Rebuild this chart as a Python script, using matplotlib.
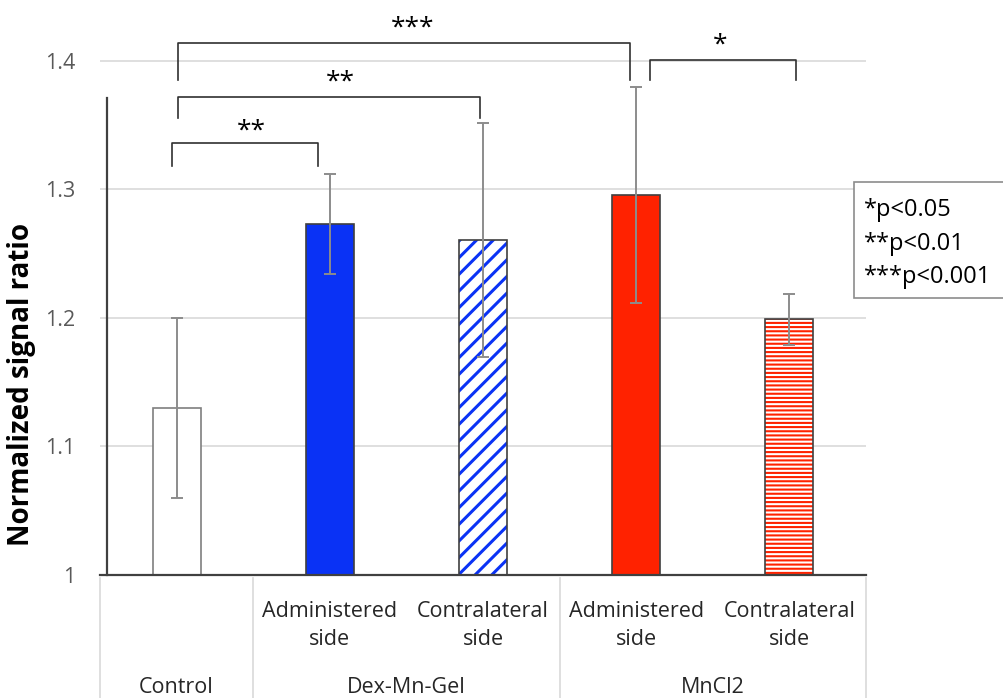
import matplotlib
matplotlib.use("Agg")
import matplotlib.pyplot as plt
from matplotlib.patches import Rectangle
import matplotlib.transforms as mtransforms

plt.rcParams['font.family'] = ['Open Sans', 'DejaVu Sans']
plt.rcParams['hatch.linewidth'] = 1.5

# ---- data ----
sub_labels = ['', 'Administered\nside', 'Contralateral\nside', 'Administered\nside', 'Contralateral\nside']
groups = ['Control', 'Dex-Mn-Gel', 'MnCl2']
group_spans = [(-0.5, 0.5), (0.5, 2.5), (2.5, 4.5)]
values = [1.13, 1.273, 1.261, 1.296, 1.199]
errors = [0.07, 0.039, 0.091, 0.084, 0.02]
face_colors = ['white', '#0A32F5', 'white', '#FF2200', 'white']
hatch_colors = [None, None, '#0A32F5', None, '#FF2200']
hatches = [None, None, '//', None, '----']
hatch_lw = [None, None, 2.2, None, 1.5]
yticks = [1.0, 1.1, 1.2, 1.3, 1.4]
ytick_labels = ['1', '1.1', '1.2', '1.3', '1.4']
# significance brackets: (x_left, x_right, y_top, y_leg_end, text, text_x, text_y)
brackets = [
    (0.01, 2.96, 1.414, 1.385, '***', 1.54, 1.416),
    (3.09, 4.04, 1.401, 1.385, '*', 3.55, 1.403),
    (0.01, 1.98, 1.372, 1.356, '**', 1.07, 1.374),
    (-0.03, 0.92, 1.336, 1.318, '**', 0.49, 1.336),
]
legend_lines = ['*p<0.05', '**p<0.01', '***p<0.001']

W, H = 1004, 698
fig = plt.figure(figsize=(W / 100, H / 100), dpi=100)
ax = fig.add_axes([100 / W, (H - 575) / H, 766 / W, 565 / H])
ax.set_xlim(-0.5, 4.5)
ax.set_ylim(1.0, 1.0 + 565 / 1285)

x = list(range(len(values)))
width = 48 / 153
heights = [v - 1.0 for v in values]

for i in x:
    if hatches[i]:
        with plt.rc_context({'hatch.linewidth': hatch_lw[i]}):
            b = ax.bar(i, heights[i], width, bottom=1.0, color='white',
                       edgecolor=hatch_colors[i], hatch=hatches[i], linewidth=0, zorder=2)
        for p in b.patches:
            if hasattr(p, 'set_hatch_linewidth'):
                p.set_hatch_linewidth(hatch_lw[i])
        ax.bar(i, heights[i], width, bottom=1.0, color='none', edgecolor='#404040',
               linewidth=1.2, zorder=3)
    else:
        ec = '#7f7f7f' if face_colors[i] == 'white' else '#404040'
        ax.bar(i, heights[i], width, bottom=1.0, color=face_colors[i], edgecolor=ec,
               linewidth=1.2, zorder=2)

ax.errorbar(x, values, yerr=errors, fmt='none', ecolor='#8c8c8c', elinewidth=1.4,
            capsize=4, capthick=1.4, zorder=4)

# grid
ax.set_yticks(yticks)
ax.set_yticklabels(ytick_labels)
ax.yaxis.grid(True, color='#d9d9d9', linewidth=1.2, zorder=0)
ax.set_axisbelow(True)
ax.tick_params(axis='y', length=0, pad=23, labelsize=15.5, labelcolor='#595959')

for s in ['top', 'right']:
    ax.spines[s].set_visible(False)
ax.spines['bottom'].set_color('#404040')
ax.spines['bottom'].set_linewidth(1.6)
ax.spines['left'].set_color('#404040')
ax.spines['left'].set_linewidth(1.6)
ax.spines['left'].set_position(('data', -0.5 + 7 / 153))
ax.spines['left'].set_bounds(1.0, 1.371)

ax.set_xticks(x)
ax.set_xticklabels(sub_labels, fontsize=15.5, color='#262626', linespacing=1.4)
ax.tick_params(axis='x', length=0, pad=19)

blend = mtransforms.blended_transform_factory(ax.transData, ax.transAxes)
# separators
for xs in [-0.5, 0.5, 2.5, 4.5]:
    ax.plot([xs, xs], [-0.005, -0.22], transform=blend, color='#d9d9d9', linewidth=1.2,
            clip_on=False)
for (a, b), g in zip(group_spans, groups):
    ax.text((a + b) / 2, -0.199, g, transform=blend, ha='center', va='center',
            fontsize=15.5, color='#262626')

ax.set_ylabel('Normalized signal ratio', fontsize=20, fontweight='bold', color='black')
ax.yaxis.set_label_coords(-64 / 766, 0.338)

# significance brackets
for xl, xr, yt, yl, txt, tx, ty in brackets:
    ax.plot([xl, xl, xr, xr], [yl, yt, yt, yl], color='#303030', linewidth=1.2,
            clip_on=False, zorder=5)
    ax.text(tx, ty, txt, ha='center', va='bottom', fontsize=19, color='black')

# legend box
fig.patches.append(Rectangle((854 / W, (H - 298) / H), 200 / W, 116 / H,
                             transform=fig.transFigure, facecolor='white',
                             edgecolor='#8c8c8c', linewidth=1.2))
for k, t in enumerate(legend_lines):
    fig.text(864 / W, (H - (210 + 33.5 * k)) / H, t, ha='left', va='center',
             fontsize=17, color='black')

fig.savefig('out.png', dpi=100)
